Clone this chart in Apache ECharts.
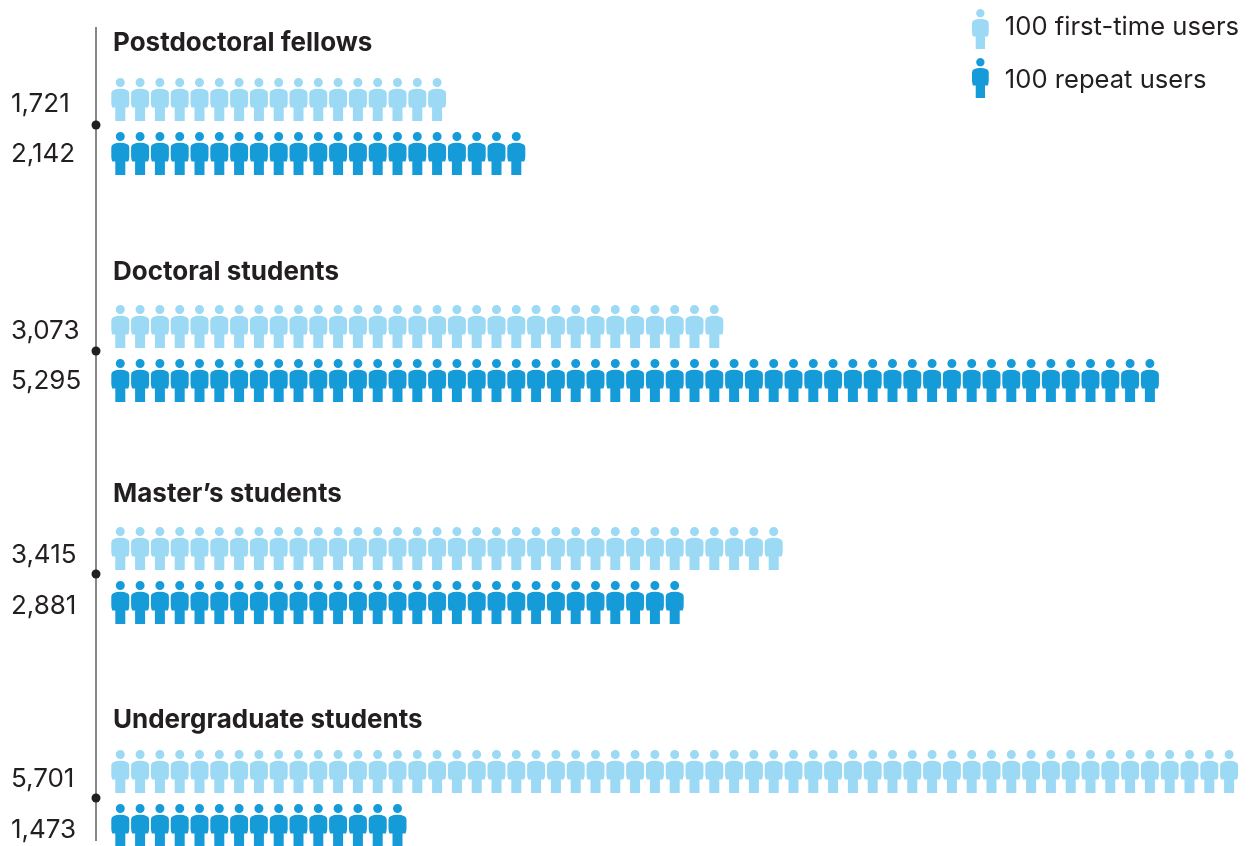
<!DOCTYPE html>
<html><head><meta charset="utf-8"><style>html,body{margin:0;padding:0;background:#fff}#c{width:1252px;height:846px}</style>
<script src="https://cdn.jsdelivr.net/npm/echarts@6/dist/echarts.min.js"></script></head>
<body><div id="c"></div>
<script>
const groups = ['Postdoctoral fellows', 'Doctoral students', 'Master\u2019s students', 'Undergraduate students'];
const firstTimeUsers = [1721, 3073, 3415, 5701];
const repeatUsers = [2142, 5295, 2881, 1473];
const firstName = '100 first-time users';
const repeatName = '100 repeat users';

const INK = '#231f20', LIGHT = '#9bd9f5', DARK = '#169bd9', FONT = 'Inter';
const PERSON = 'path://M9 0a4.5 4.5 0 1 1 0 9a4.5 4.5 0 1 1 0-9Z M9 10.8Q13 10.8 16 12.2Q18 13.2 18 15.5V24.5Q18 27 17 29.5H14V43H4V29.5H1Q0 27 0 24.5V15.5Q0 13.2 2 12.2Q5 10.8 9 10.8Z';
const gridTops = [72.5, 299.5, 521.5, 744.5];
const titleTops = [30, 259, 481, 707];
const dotYs = [125, 351, 574, 798];
const labelPadA = [9, 9, 13, 15];
const labelPadB = [1, 1, 7, 9];
const fmt = v => v.toLocaleString('en-US');

const grid = [], xAxis = [], yAxis = [], series = [], title = [];
groups.forEach((g, i) => {
  grid.push({left: 110.4, width: 1128.6, top: gridTops[i], height: 108, containLabel: false, outerBoundsMode: 'none'});
  xAxis.push({gridIndex: i, type: 'value', min: 0, max: 57, show: false});
  yAxis.push({gridIndex: i, type: 'category', inverse: true, data: [fmt(firstTimeUsers[i]), fmt(repeatUsers[i])],
    axisLine: {show: false}, axisTick: {show: false}, splitLine: {show: false},
    axisLabel: {margin: 99.5, align: 'left', color: INK, fontFamily: FONT, fontSize: 26,
      formatter: (v, idx) => idx === 0 ? '{a|' + v + '}' : '{b|' + v + '}',
      rich: {a: {padding: [labelPadA[i], 0, 0, 0], color: INK, fontFamily: FONT, fontSize: 26}, b: {padding: [labelPadB[i], 0, 0, 0], color: INK, fontFamily: FONT, fontSize: 26}}}});
  const common = {type: 'pictorialBar', xAxisIndex: i, yAxisIndex: i, symbol: PERSON, symbolSize: [18, 43],
    symbolRepeat: true, symbolMargin: '5%!', barGap: '-100%', barWidth: 43, silent: true, animation: false};
  series.push(Object.assign({}, common, {name: firstName, itemStyle: {color: LIGHT}, data: [Math.round(firstTimeUsers[i] / 100), '-']}));
  series.push(Object.assign({}, common, {name: repeatName, itemStyle: {color: DARK}, data: ['-', Math.round(repeatUsers[i] / 100)]}));
  title.push({text: g, left: 113, top: titleTops[i], padding: 0,
    textStyle: {color: INK, fontFamily: FONT, fontSize: 26, fontWeight: 700}});
});

const graphic = [{type: 'line', silent: true, shape: {x1: 96, y1: 27, x2: 96, y2: 841}, style: {stroke: '#5f5f5f', lineWidth: 1.5}}]
  .concat(dotYs.map(y => ({type: 'circle', silent: true, shape: {cx: 96, cy: y, r: 4.5}, style: {fill: INK}})));

const chart = echarts.init(document.getElementById('c'), null, {renderer: 'canvas'});
chart.setOption({
  animation: false, backgroundColor: '#fff', grid, xAxis, yAxis, series, title, graphic,
  legend: {left: 972, top: 9, orient: 'vertical', itemWidth: 17, itemHeight: 40, itemGap: 9, padding: 0, selectedMode: false,
    formatter: n => (n === firstName ? '{a|' : '{b|') + n + '}',
    textStyle: {color: INK, fontFamily: FONT, fontSize: 25.6, rich: {
      a: {padding: [0, 0, 3, 11], color: INK, fontFamily: FONT, fontSize: 25.6},
      b: {padding: [5, 0, 0, 11], color: INK, fontFamily: FONT, fontSize: 25.6}}},
    data: [{name: firstName, icon: PERSON}, {name: repeatName, icon: PERSON}]}
});
</script></body></html>
